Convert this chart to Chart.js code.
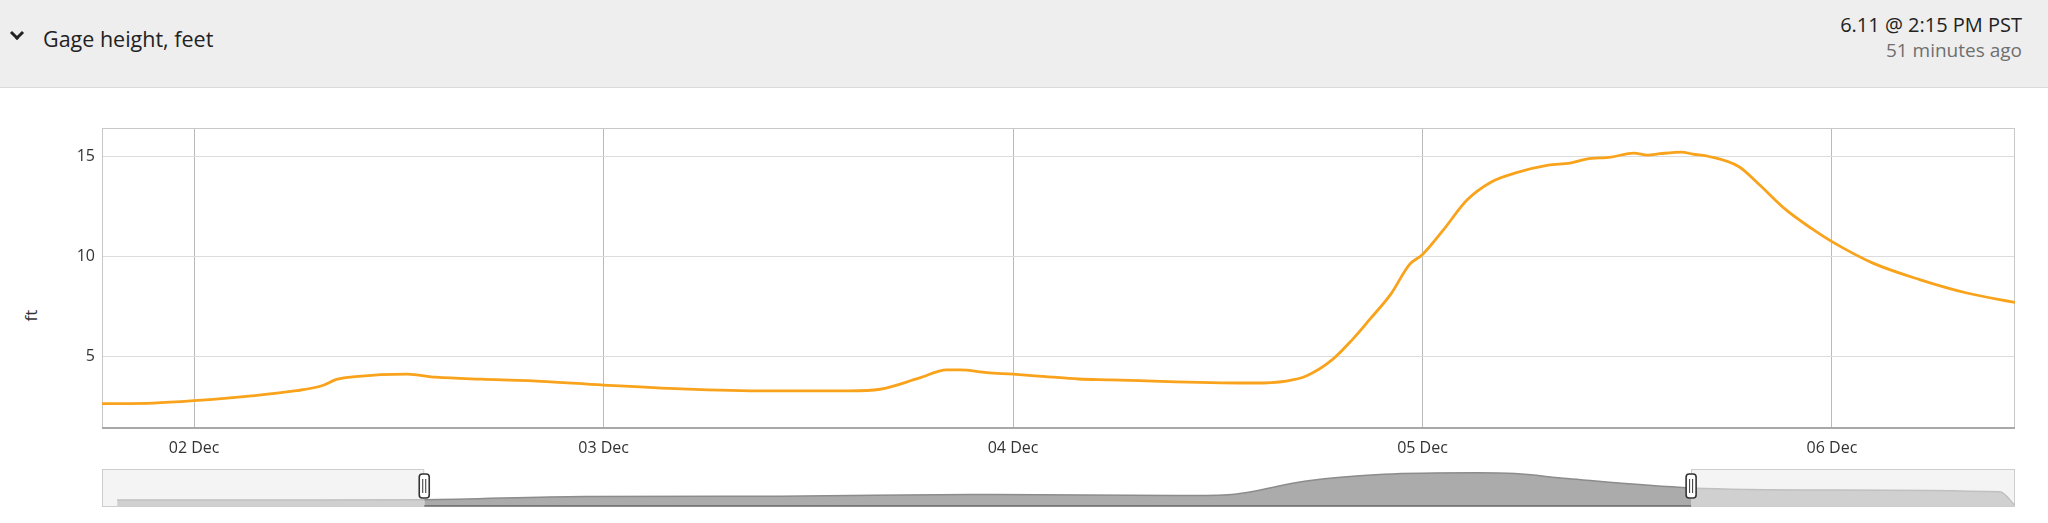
<!DOCTYPE html>
<html>
<head>
<meta charset="utf-8">
<script src="https://cdn.jsdelivr.net/npm/chart.js@4.4.1/dist/chart.umd.min.js"></script>
<style>
  body { margin: 0; width: 2048px; height: 523px; background: #fff; overflow: hidden; position: relative;
         font-family: "Open Sans", sans-serif; }
  .hdr { position: absolute; left: 0; top: 0; width: 2048px; height: 87px; background: #eeeeee;
         border-bottom: 1px solid #d9d9d9; }
  .chev { position: absolute; left: 12px; top: 28px; width: 7px; height: 7px;
          border-right: 3.5px solid #222; border-bottom: 3.5px solid #222; transform: rotate(45deg); }
  .title { position: absolute; left: 43px; top: 25px; font-size: 21.5px; font-weight: 500; line-height: 28px; color: #222; }
  .when { position: absolute; right: 26px; top: 13px; font-size: 20px; font-weight: 500; line-height: 24px; color: #222; text-align: right; }
  .ago { position: absolute; right: 26px; top: 38px; font-size: 19px; line-height: 24px; color: #6f6f6f; text-align: right; }
  .ytitle { position: absolute; left: 25px; top: 304px; font-size: 17px; color: #333; transform: rotate(-90deg); }
  #main { position: absolute; left: 0; top: 88px; }
  #nav { position: absolute; left: 0; top: 460px; }
</style>
</head>
<body>
<div class="hdr">
  <span class="chev"></span>
  <span class="title">Gage height, feet</span>
  <span class="when">6.11 @ 2:15 PM PST</span>
  <span class="ago">51 minutes ago</span>
</div>
<span class="ytitle">ft</span>
<canvas id="main" width="2048" height="372"></canvas>
<canvas id="nav" width="2048" height="60"></canvas>
<script>
// x values are days after 01 Dec 00:00
const tickDays = [1, 2, 3, 4, 5];
const tickLabels = ['02 Dec', '03 Dec', '04 Dec', '05 Dec', '06 Dec'];
const yTicks = [5, 10, 15];

const gageDays = [0.775, 0.90, 1.0, 1.14, 1.25, 1.31, 1.35, 1.394, 1.52, 1.59, 1.70, 1.816, 2.0, 2.19, 2.40, 2.60,
  2.675, 2.77, 2.838, 2.87, 2.936, 3.0, 3.08, 3.16, 3.24, 3.397, 3.588, 3.667, 3.716, 3.779, 3.828, 3.87, 3.923,
  3.968, 4.0, 4.05, 4.108, 4.167, 4.225, 4.307, 4.36, 4.4, 4.46, 4.516, 4.55, 4.58, 4.633, 4.66, 4.70, 4.772, 4.819,
  4.888, 4.95, 5.0, 5.1, 5.216, 5.332, 5.448];
const gageFt = [2.67, 2.70, 2.82, 3.06, 3.32, 3.55, 3.89, 4.02, 4.14, 3.99, 3.89, 3.82, 3.6, 3.41, 3.31, 3.31,
  3.39, 3.94, 4.35, 4.35, 4.22, 4.14, 4.02, 3.90, 3.86, 3.76, 3.70, 3.80, 4.05, 4.85, 5.85, 6.84, 8.14,
  9.6, 10.1, 11.3, 12.8, 13.7, 14.15, 14.55, 14.65, 14.85, 14.95, 15.15, 15.05, 15.12, 15.2, 15.1, 14.98, 14.48, 13.65,
  12.32, 11.4, 10.74, 9.67, 8.84, 8.17, 7.71];

// navigator (overview) series
const navDays = [0.812, 1.2, 1.562, 1.952, 2.431, 2.9, 2.95, 3.396, 3.525, 3.716, 3.906, 4.131, 4.226, 4.353,
  4.656, 4.990, 5.410, 5.447];
const navFt = [2.7, 2.8, 2.9, 4.4, 4.5, 5.3, 5.3, 4.8, 5.2, 11.5, 14.6, 15.3, 14.9, 12.6, 8.3, 7.4, 6.5, 0.3];
const selStart = 1.562, selEnd = 4.656;

const xMin = 0.775, xMax = 5.447;
const fontFamily = '"Open Sans", sans-serif';

const plotFrame = {
  id: 'plotFrame',
  beforeDatasetsDraw(chart) {
    const {ctx, chartArea: a} = chart;
    ctx.save();
    ctx.strokeStyle = '#c8c8c8';
    ctx.lineWidth = 1;
    ctx.strokeRect(a.left + 0.5, a.top + 0.5, a.width - 1, a.height - 1);
    ctx.strokeStyle = '#a8a8a8';
    ctx.lineWidth = 2;
    ctx.beginPath();
    ctx.moveTo(a.left, a.bottom);
    ctx.lineTo(a.right, a.bottom);
    ctx.stroke();
    ctx.restore();
  }
};

new Chart(document.getElementById('main'), {
  type: 'line',
  data: {
    datasets: [{
      data: gageDays.map((d, i) => ({x: d, y: gageFt[i]})),
      borderColor: '#f8a31b',
      borderWidth: 2.8,
      pointRadius: 0,
      cubicInterpolationMode: 'monotone'
    }]
  },
  options: {
    responsive: false,
    animation: false,
    layout: {padding: {left: 0, right: 33, top: 40, bottom: 0}},
    plugins: {legend: {display: false}, tooltip: {enabled: false}},
    scales: {
      x: {
        type: 'linear', min: xMin, max: xMax,
        afterBuildTicks: s => { s.ticks = tickDays.map(v => ({value: v})); },
        afterFit: s => { s.height = 32; },
        grid: {color: '#bababa', drawTicks: false},
        border: {display: false},
        ticks: {padding: 11, color: '#333', maxRotation: 0, font: {family: fontFamily, size: 16},
                callback: (v, i) => tickLabels[i]}
      },
      y: {
        min: 1.46, max: 16.4,
        afterBuildTicks: s => { s.ticks = yTicks.map(v => ({value: v})); },
        afterFit: s => { s.width = 102; },
        grid: {color: '#dcdcdc', drawTicks: false},
        border: {display: false},
        ticks: {padding: 7, color: '#333', font: {family: fontFamily, size: 16}}
      }
    }
  },
  plugins: [plotFrame]
});

// navigator
const inSel = c => c.p0.parsed.x >= selStart - 1e-6 && c.p1.parsed.x <= selEnd + 1e-6;

const navMask = {
  id: 'navMask',
  beforeDatasetsDraw(chart) {
    const {ctx, chartArea: a, scales: {x}} = chart;
    const x0 = x.getPixelForValue(selStart), x1 = x.getPixelForValue(selEnd);
    ctx.save();
    ctx.fillStyle = '#f4f4f4';
    ctx.strokeStyle = '#cdcdcd';
    ctx.lineWidth = 1;
    [[a.left, x0], [x1, a.right]].forEach(([l, r]) => {
      ctx.fillRect(l, a.top, r - l, a.height);
      ctx.strokeRect(l + 0.5, a.top + 0.5, r - l - 1, a.height);
    });
    ctx.restore();
  },
  afterDatasetsDraw(chart) {
    const {ctx, chartArea: a, scales: {x}} = chart;
    const x0 = x.getPixelForValue(selStart), x1 = x.getPixelForValue(selEnd);
    ctx.save();
    ctx.strokeStyle = '#666';
    ctx.lineWidth = 1.5;
    ctx.beginPath();
    ctx.moveTo(x0, a.bottom);
    ctx.lineTo(x1, a.bottom);
    ctx.stroke();
    [x0, x1].forEach(px => {
      const w = 10, h = 24, top = a.top + 5;
      ctx.fillStyle = '#fff';
      ctx.strokeStyle = '#333';
      ctx.lineWidth = 1.6;
      ctx.beginPath();
      ctx.roundRect(px - w / 2, top, w, h, 3);
      ctx.fill();
      ctx.stroke();
      ctx.lineWidth = 1;
      ctx.beginPath();
      ctx.moveTo(px - 1.5, top + 5); ctx.lineTo(px - 1.5, top + h - 5);
      ctx.moveTo(px + 1.5, top + 5); ctx.lineTo(px + 1.5, top + h - 5);
      ctx.stroke();
    });
    ctx.restore();
  }
};

new Chart(document.getElementById('nav'), {
  type: 'line',
  data: {
    datasets: [{
      data: navDays.map((d, i) => ({x: d, y: navFt[i]})),
      fill: 'origin',
      borderWidth: 1.5,
      pointRadius: 0,
      cubicInterpolationMode: 'monotone',
      backgroundColor: '#d0d0d0',
      borderColor: '#c0c0c0',
      segment: {
        backgroundColor: c => inSel(c) ? '#ababab' : '#d0d0d0',
        borderColor: c => inSel(c) ? '#8c8c8c' : '#c0c0c0'
      }
    }]
  },
  options: {
    responsive: false,
    animation: false,
    layout: {padding: {left: 102, right: 33, top: 9, bottom: 14}},
    plugins: {legend: {display: false}, tooltip: {enabled: false}},
    scales: {
      x: {type: 'linear', min: xMin, max: xMax, display: false},
      y: {min: 0, max: 17, display: false}
    }
  },
  plugins: [navMask]
});
</script>
</body>
</html>
